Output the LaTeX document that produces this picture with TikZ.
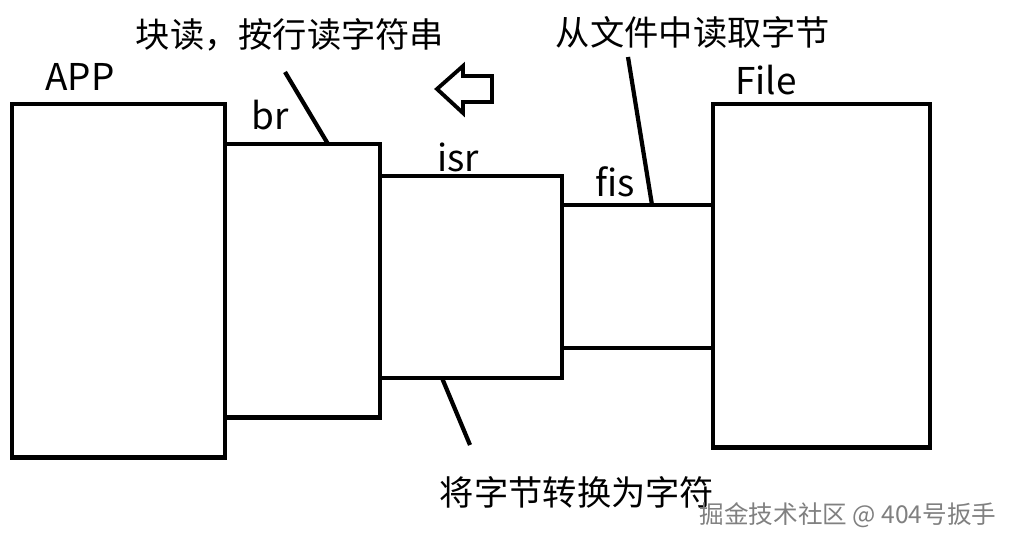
\documentclass[tikz,border=0pt]{standalone}
\usepackage{fontspec}
\setmainfont{Noto Sans CJK SC}
\usetikzlibrary{positioning}

\tikzset{
  part/.style={draw, line width=2.8pt, minimum width=#1, anchor=north west, inner sep=0pt, outer sep=0pt},
  tag/.style={font=\fontsize{21}{24}\selectfont, inner sep=0pt},
  note/.style={font=\fontsize{19.5}{22}\selectfont, inner sep=0pt},
  leader/.style={line width=2.4pt}
}

\begin{document}
\begin{tikzpicture}[x=0.02cm, y=-0.02cm]
    \useasboundingbox (0,0) rectangle (1016,547);
    % --- streams ---
    \node (app) at (12,104) [part=4.26cm, minimum height=7.08cm] {};
    \node (br) at (225,144) [part=3.1cm, minimum height=5.48cm] {};
    \node (isr) at (380,176) [part=3.64cm, minimum height=4.04cm] {};
    \node (fis) at (562,205) [part=3.02cm, minimum height=2.86cm] {};
    \node (file) at (713,104) [part=4.34cm, minimum height=6.88cm] {};

    \node (apptag) at (80,77) [tag] {APP};
    \node (brtag) at (270,115) [tag] {br};
    \node (isrtag) at (458,157) [tag] {isr};
    \node (fistag) at (615,182) [tag] {fis};
    \node (filetag) at (766,80) [tag] {File};

    % --- notes ---
    \node (brnote) at (290,35) [note] {块读，按行读字符串};
    \node (fisnote) at (693,32) [note] {从文件中读取字节};
    \node (isrnote) at (577,492) [note] {将字节转换为字符};

    \coordinate (brend) at (285,72);
    \coordinate (fisend) at (628,57);
    \coordinate (isrend) at (470,445);
    \draw[leader] (brend) -- (328,144);
    \draw[leader] (fisend) -- (652,205);
    \draw[leader] (442,378) -- (isrend);

    % --- direction ---
    \draw[line width=2.2pt, line join=miter] (437,89) -- (463,66) -- (463,76) -- (492,76)
        -- (492,102) -- (463,102) -- (463,113) -- cycle;

    \node (mark) at (848,515) [font=\fontsize{14}{16}\selectfont, text=gray, inner sep=0pt] {掘金技术社区 @ 404号扳手};
\end{tikzpicture}
\end{document}
